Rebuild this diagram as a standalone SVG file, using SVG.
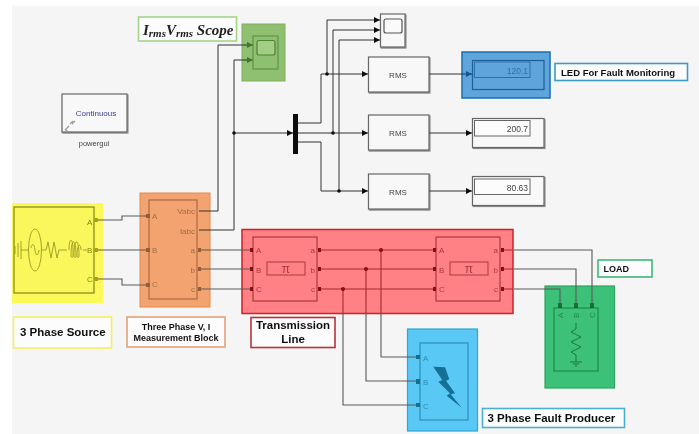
<svg xmlns="http://www.w3.org/2000/svg" width="699" height="434" viewBox="0 0 699 434">
<defs>
<style>
text{font-family:"Liberation Sans",Arial,sans-serif}
.w{fill:none;stroke:#5a5a5a;stroke-width:1.1}
.k{fill:none;stroke:#333;stroke-width:1}
.r{fill:none;stroke:#a52a2e;stroke-width:1.1}
.b{fill:#f8f8f8;stroke:#666;stroke-width:1.2;filter:url(#sh)}
.lb{fill:#fcfcfc;stroke-width:1.6}
.t{font-weight:bold;fill:#111}
.p{font-size:8px}
.rm{font-size:8px;fill:#444;text-anchor:middle}
.v{font-size:8.5px;fill:#444;text-anchor:end}
</style>
<filter id="sh" x="-10%" y="-10%" width="125%" height="125%"><feDropShadow dx="0.8" dy="1" stdDeviation="0.5" flood-color="#000" flood-opacity="0.5"/></filter>
<filter id="soft" x="0" y="0" width="100%" height="100%"><feGaussianBlur stdDeviation="0.4"/></filter>
<marker id="a" markerWidth="7" markerHeight="6" refX="6" refY="3" orient="auto" markerUnits="userSpaceOnUse"><path d="M0,0L6,3L0,6z" fill="#111"/></marker>
<marker id="ag" markerWidth="7" markerHeight="6" refX="6" refY="3" orient="auto" markerUnits="userSpaceOnUse"><path d="M0,0L6,3L0,6z" fill="#3f7a25"/></marker>
<marker id="ab" markerWidth="7" markerHeight="6" refX="6" refY="3" orient="auto" markerUnits="userSpaceOnUse"><path d="M0,0L6,3L0,6z" fill="#14548f"/></marker>
</defs>
<rect width="699" height="434" fill="#fff"/>
<g filter="url(#soft)">
<rect x="12" y="6" width="687" height="428" fill="#f5f5f5"/>

<g id="scope-highlight"><rect x="242" y="24" width="43" height="57" fill="#8fbf70" stroke="#7fb060"/></g>
<g id="source-bg"><rect x="12" y="203" width="91" height="100" fill="#fbf95a"/></g>
<g id="measure-bg"><rect x="140" y="193" width="70" height="114" fill="#f2a36f" stroke="#e08a52"/></g>
<g id="line-bg"><rect x="242" y="229.500" width="271" height="84" fill="#ff8185" stroke="#c8232b" stroke-width="1.500"/></g>
<g id="load-bg"><rect x="545" y="286" width="69.500" height="102" fill="#3cc078" stroke="#2ba55d" stroke-width="1.200"/></g>
<g id="fault-bg"><rect x="407.500" y="329" width="70" height="102" fill="#5ac8f5" stroke="#2ea6d6" stroke-width="1.200"/></g>
<g id="led-bg"><rect x="462" y="52" width="88" height="46" fill="#5fa5dc" stroke="#1a6fb0" stroke-width="1.500"/></g>

<g id="connectors">
<path class="w" d="M97,220H122V216H146M97,250H146M97,279H122V285H146"/>
<path class="k" d="M199,211H218V45H253" marker-end="url(#ag)"/>
<path class="k" d="M199,230H234V60H253" marker-end="url(#ag)"/>
<path class="k" d="M234,133H293" marker-end="url(#a)"/>
<path class="k" d="M298,123H321V74H368" marker-end="url(#a)"/>
<path class="k" d="M298,133H368" marker-end="url(#a)"/>
<path class="k" d="M298,142H321V191H368" marker-end="url(#a)"/>
<path class="k" d="M327,74V20H380" marker-end="url(#a)"/>
<path class="k" d="M333,133V30H380" marker-end="url(#a)"/>
<path class="k" d="M339,191V40H380" marker-end="url(#a)"/>
<path class="k" d="M429,74H472" marker-end="url(#ab)" stroke="#14548f"/>
<path class="k" d="M429,133H472" marker-end="url(#a)"/>
<path class="k" d="M429,191H472" marker-end="url(#a)"/>
<path class="w" d="M199,250H250M199,269H250M199,289H250"/>
<path class="r" d="M319,250H434M319,269H434M319,289H434M267,269H258M305,269H311M450,269H441M488,269H494"/>
<path class="w" d="M514,250H592V303M514,269H576V303M514,289H560V303"/>
<path class="r" d="M502,250H513M502,269H513M502,289H513"/>
<path class="w" d="M381,314V357H417M366,314V381H417M343,314V405H417"/>
<path class="r" d="M381,250V313M366,269V313M343,289V313"/>
<g fill="#8a0f14"><circle cx="381" cy="250" r="2"/><circle cx="366" cy="269" r="2"/><circle cx="343" cy="289" r="2"/></g>
<g fill="#111"><circle cx="234" cy="133" r="1.800"/><circle cx="327" cy="74" r="1.800"/><circle cx="333" cy="133" r="1.800"/><circle cx="339" cy="191" r="1.800"/></g>
</g>

<g id="powergui">
<rect class="b" x="62" y="94" width="65" height="38"/>
<text x="96" y="116" font-size="8" fill="#3a3a8c" text-anchor="middle">Continuous</text>
<path d="M65,130l4,-4m1,-2l3,-3m-7,9l2,2m4,-8l3,-3" fill="none" stroke="#999" stroke-width="1.200"/>
<text x="94" y="146" font-size="7.500" fill="#444" text-anchor="middle">powergui</text>
</g>

<g id="source">
<rect x="14" y="207" width="80" height="86" fill="#f9f75c" stroke="#8c8c1c" stroke-width="1.300"/>
<g fill="none" stroke="#9a9a20" stroke-width="0.900">
<path d="M15,246v8M18,243v14M21,241v18M21,250H29"/>
<ellipse cx="35" cy="250" rx="6.500" ry="21"/>
<path d="M31,248c1,-5 3,-5 4,2s3,6 4,0"/>
<path d="M41,250h5l2,-8 3,16 3,-16 3,16 2,-8h8"/>
<path d="M69,250c0,-13 4,-13 4,0v6c0,2 -2,2 -2,0c0,-19 5,-19 5,0c0,2 -2,2 -2,0c0,-19 5,-19 5,0c0,2 -2,2 -2,0c0,-13 4,-13 4,-6"/>
<path d="M83,250h4"/>
</g>
<g fill="#a5a510"><rect x="94" y="218" width="4" height="4"/><rect x="94" y="248" width="4" height="4"/><rect x="94" y="277" width="4" height="4"/></g>
<g class="p" fill="#85851a"><text x="87" y="225">A</text><text x="87" y="253">B</text><text x="87" y="282">C</text></g>
</g>

<g id="measure">
<rect x="149" y="200" width="48" height="99" fill="#f2a36f" stroke="#a86a42" stroke-width="1.200"/>
<g fill="#9a5c34"><rect x="146" y="214" width="4" height="4"/><rect x="146" y="248" width="4" height="4"/><rect x="146" y="283" width="4" height="4"/><rect x="198" y="248" width="3" height="4"/><rect x="198" y="267" width="3" height="4"/><rect x="198" y="287" width="3" height="4"/></g>
<g class="p" fill="#a86a42"><text x="152" y="219">A</text><text x="152" y="253">B</text><text x="152" y="287">C</text><text x="195" y="214" text-anchor="end">Vabc</text><text x="195" y="234" text-anchor="end">Iabc</text><text x="195" y="253" text-anchor="end">a</text><text x="195" y="273" text-anchor="end">b</text><text x="195" y="292" text-anchor="end">c</text></g>
</g>

<g id="line-left">
<rect x="253" y="237" width="64" height="64" fill="#ff8185" stroke="#a83a3e" stroke-width="1.200"/>
<rect x="267" y="262" width="38" height="13" fill="#ff8185" stroke="#a83a3e"/>
<text x="286" y="273" font-size="12" fill="#a83a3e" text-anchor="middle">π</text>
<g fill="#8a1015"><rect x="250" y="248" width="3" height="4"/><rect x="250" y="267" width="3" height="4"/><rect x="250" y="287" width="3" height="4"/><rect x="318" y="248" width="3" height="4"/><rect x="318" y="267" width="3" height="4"/><rect x="318" y="287" width="3" height="4"/></g>
<g class="p" fill="#a83a3e"><text x="256" y="253">A</text><text x="256" y="273">B</text><text x="256" y="292">C</text><text x="315" y="253" text-anchor="end">a</text><text x="315" y="273" text-anchor="end">b</text><text x="315" y="292" text-anchor="end">c</text></g>
</g>
<g id="line-right">
<rect x="436" y="237" width="64" height="64" fill="#ff8185" stroke="#a83a3e" stroke-width="1.200"/>
<rect x="450" y="262" width="38" height="13" fill="#ff8185" stroke="#a83a3e"/>
<text x="469" y="273" font-size="12" fill="#a83a3e" text-anchor="middle">π</text>
<g fill="#8a1015"><rect x="433" y="248" width="3" height="4"/><rect x="433" y="267" width="3" height="4"/><rect x="433" y="287" width="3" height="4"/><rect x="501" y="248" width="3" height="4"/><rect x="501" y="267" width="3" height="4"/><rect x="501" y="287" width="3" height="4"/></g>
<g class="p" fill="#a83a3e"><text x="439" y="253">A</text><text x="439" y="273">B</text><text x="439" y="292">C</text><text x="498" y="253" text-anchor="end">a</text><text x="498" y="273" text-anchor="end">b</text><text x="498" y="292" text-anchor="end">c</text></g>
</g>

<g id="load">
<rect x="554" y="308" width="44" height="63" fill="#3cc078" stroke="#1f8a4c" stroke-width="1.200" transform="translate(0 0)"/>
<g fill="#14703a"><rect x="558" y="303" width="4" height="5"/><rect x="574" y="303" width="4" height="5"/><rect x="590" y="303" width="4" height="5"/></g>
<g class="p" fill="#1f8a4c"><text transform="translate(563,318) rotate(-90)">A</text><text transform="translate(579,318) rotate(-90)">B</text><text transform="translate(595,318) rotate(-90)">C</text></g>
<path d="M576,323v6l-5,3 10,5 -10,5 10,5 -10,5 5,3v7m-6,0h12m-9,2h6m-4,2h2" fill="none" stroke="#1a7a42" stroke-width="1"/>
</g>

<g id="fault">
<rect x="420" y="343" width="48" height="77" fill="#5ac8f5" stroke="#2b8fb8" stroke-width="1.200"/>
<g fill="#14708f"><rect x="416" y="355" width="4" height="4"/><rect x="416" y="379" width="4" height="5"/><rect x="416" y="403" width="4" height="4"/></g>
<g class="p" fill="#2b8fb8"><text x="423" y="361">A</text><text x="423" y="385">B</text><text x="423" y="409">C</text></g>
<path d="M433.300,366.700L445,367.300 449.300,379.300 446,380.700 455,393.300 450.700,394.300 461.700,407.700 446.700,395.700 450,393.300 438.300,381.700 442.300,380z" fill="#136f96"/>
</g>

<g id="scope-main">
<rect x="253" y="36" width="25" height="33" fill="#8fbf70" stroke="#5f9440" stroke-width="1.200"/>
<rect x="257" y="40.500" width="18" height="14.500" rx="2" fill="#a3cc85" stroke="#4f8430" stroke-width="1.200"/>
</g>
<g id="scope-top">
<rect class="b" x="380.500" y="14" width="24.500" height="33"/>
<rect x="384" y="19" width="18" height="14" rx="2" fill="#fafafa" stroke="#555" stroke-width="1.200"/>
</g>

<g id="mux"><rect x="293" y="114" width="5" height="40" fill="#111"/></g>

<g id="rms1"><rect class="b" x="368.500" y="57" width="60.500" height="35"/><text class="rm" x="398" y="77.500">RMS</text></g>
<g id="rms2"><rect class="b" x="368.500" y="115" width="60.500" height="35"/><text class="rm" x="398" y="135.500">RMS</text></g>
<g id="rms3"><rect class="b" x="368.500" y="174" width="60.500" height="35"/><text class="rm" x="398" y="194.500">RMS</text></g>

<g id="display1">
<rect x="472.500" y="60.500" width="71.500" height="29" fill="#5fa5dc" stroke="#1a5f99" stroke-width="1.200"/>
<rect x="474.500" y="62" width="55.500" height="15.500" fill="#5fa5dc" stroke="#2a70aa"/>
<text class="v" x="528" y="73.500" style="fill:#2a6fa8">120.1</text>
</g>
<g id="display2">
<rect class="b" x="472.500" y="118.500" width="71.500" height="29"/>
<rect x="474.500" y="120.500" width="55.500" height="15.500" fill="#fcfcfc" stroke="#666"/>
<text class="v" x="528" y="132">200.7</text>
</g>
<g id="display3">
<rect class="b" x="472.500" y="176.500" width="71.500" height="29"/>
<rect x="474.500" y="179" width="55.500" height="15.500" fill="#fcfcfc" stroke="#666"/>
<text class="v" x="528" y="190.500">80.63</text>
</g>

<g id="label-scope"><rect class="lb" x="138.500" y="17" width="98" height="24" stroke="#a5d48a"/>
<text x="143" y="34.500" style="font-family:'Liberation Serif',serif" font-size="15" font-weight="bold" font-style="italic" fill="#222">I<tspan font-size="11" dy="2">rms</tspan><tspan dy="-2">V</tspan><tspan font-size="11" dy="2">rms</tspan><tspan dy="-2"> Scope</tspan></text></g>
<g id="label-led"><rect class="lb" x="555" y="63.500" width="132.500" height="17" stroke="#3a9cc4"/><text class="t" x="561" y="75.500" font-size="9.500">LED For Fault Monitoring</text></g>
<g id="label-load"><rect class="lb" x="598" y="260" width="54" height="17" stroke="#3cb878"/><text class="t" x="603.500" y="272" font-size="9">LOAD</text></g>
<g id="label-fault"><rect class="lb" x="482.500" y="408.500" width="142" height="19" stroke="#4ab0d0"/><text class="t" x="487.500" y="422" font-size="11.500">3 Phase Fault Producer</text></g>
<g id="label-source"><rect class="lb" x="13.500" y="317" width="98" height="31" stroke="#f3f060"/><text class="t" x="20" y="336" font-size="11.500">3 Phase Source</text></g>
<g id="label-measure"><rect class="lb" x="127" y="317" width="98" height="30" stroke="#e2a37c"/><text class="t" x="176" y="330" font-size="9" text-anchor="middle">Three Phase V, I</text><text class="t" x="176" y="341" font-size="9" text-anchor="middle">Measurement Block</text></g>
<g id="label-line"><rect class="lb" x="251" y="317.500" width="84" height="30" stroke="#b8323a"/><text class="t" x="293" y="329" font-size="11.500" text-anchor="middle">Transmission</text><text class="t" x="293" y="343" font-size="11.500" text-anchor="middle">Line</text></g>
</g>
</svg>
